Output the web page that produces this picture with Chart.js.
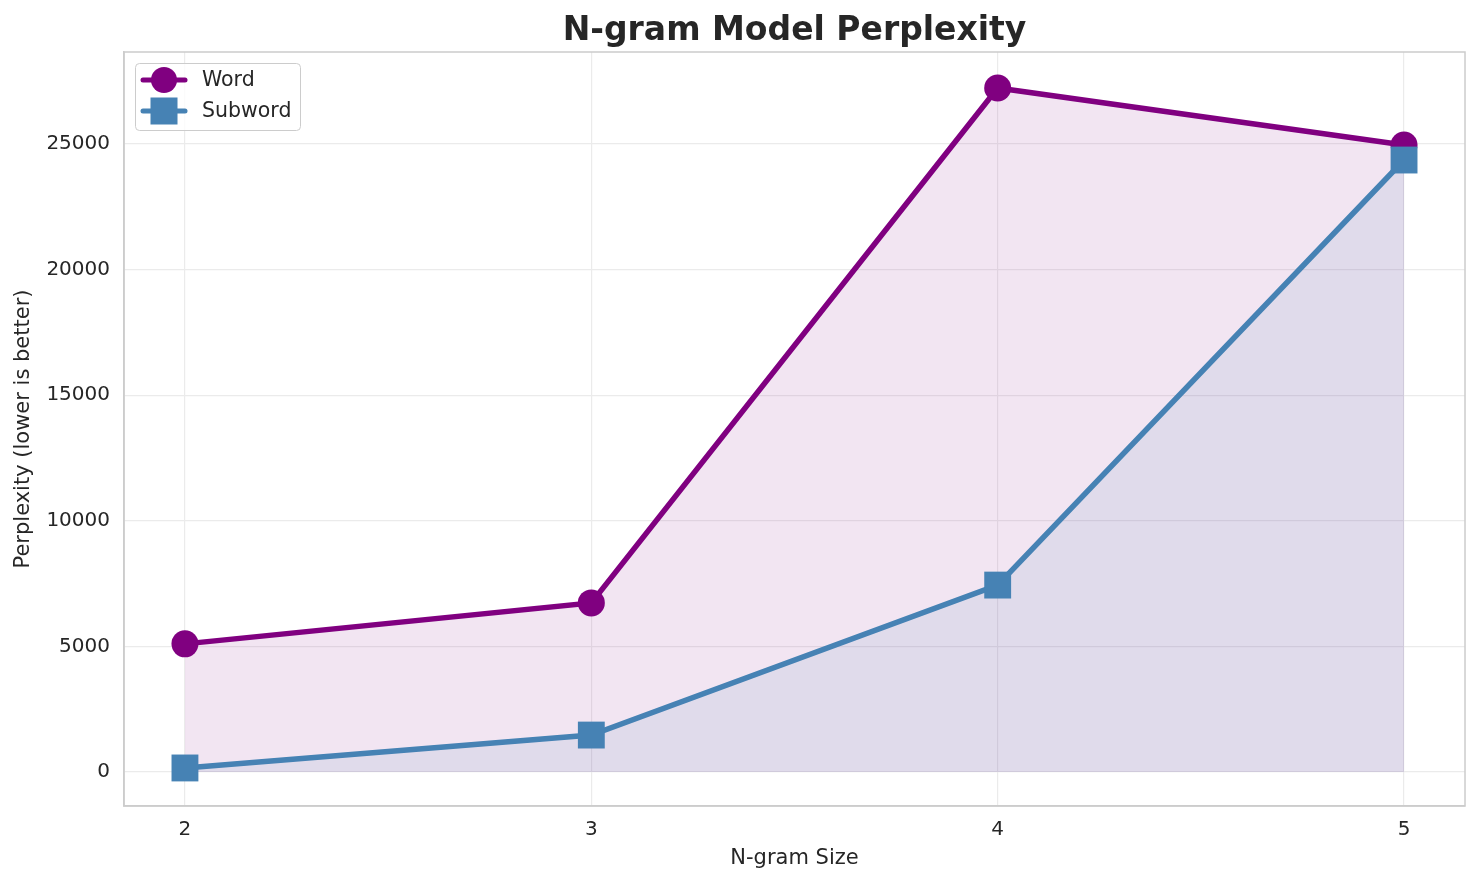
<!DOCTYPE html>
<html>
<head>
<meta charset="utf-8">
<script src="https://cdn.jsdelivr.net/npm/chart.js@4/dist/chart.umd.min.js"></script>
<style>
  html, body { margin: 0; padding: 0; background: #fff; overflow: hidden; }
  #wrap { width: 1484px; height: 885px; overflow: hidden; }
  canvas { display: block; }
</style>
</head>
<body>
<div id="wrap"><canvas id="chart"></canvas></div>
<script>
const ngramSizes = [2, 3, 4, 5];
const wordPerplexity = [5100, 6730, 27230, 24960];
const subwordPerplexity = [160, 1470, 7440, 24360];
const yTicks = [0, 5000, 10000, 15000, 20000, 25000];

const FONT = "'DejaVu Sans', sans-serif";
const TEXT = '#262626';

// legend drawn the matplotlib way: line sample with a marker in the middle
const legendBox = {
  id: 'legendBox',
  afterDraw(chart) {
    const ctx = chart.ctx;
    const x0 = 135, y0 = 63, w = 165, h = 67;
    ctx.save();
    ctx.fillStyle = 'rgba(255,255,255,0.8)';
    ctx.strokeStyle = '#cccccc';
    ctx.lineWidth = 1;
    ctx.beginPath();
    ctx.roundRect(x0 + 0.5, y0 + 0.5, w, h, 4);
    ctx.fill();
    ctx.stroke();
    chart.data.datasets.forEach((ds, i) => {
      const cy = 80 + i * 31;
      ctx.strokeStyle = ds.borderColor;
      ctx.lineWidth = 5;
      ctx.lineCap = 'round';
      ctx.beginPath();
      ctx.moveTo(143, cy);
      ctx.lineTo(185, cy);
      ctx.stroke();
      ctx.fillStyle = ds.borderColor;
      if (ds.pointStyle === 'circle') {
        ctx.beginPath();
        ctx.arc(164, cy, 13, 0, Math.PI * 2);
        ctx.fill();
      } else {
        ctx.fillRect(150.5, cy - 13.5, 27, 27);
      }
      ctx.fillStyle = TEXT;
      ctx.font = '20.5px ' + FONT;
      ctx.textBaseline = 'middle';
      ctx.fillText(ds.label, 202, cy + 1);
    });
    ctx.restore();
  }
};

const titlePlugin = {
  id: 'titleText',
  afterDraw(chart) {
    const ctx = chart.ctx;
    const a = chart.chartArea;
    ctx.save();
    ctx.fillStyle = TEXT;
    ctx.font = 'bold 33px ' + FONT;
    ctx.textAlign = 'center';
    ctx.textBaseline = 'alphabetic';
    ctx.fillText('N-gram Model Perplexity', (a.left + a.right) / 2, 40);
    ctx.restore();
  }
};

new Chart(document.getElementById('chart'), {
  type: 'line',
  data: {
    datasets: [
      {
        label: 'Word',
        data: ngramSizes.map((n, i) => ({ x: n, y: wordPerplexity[i] })),
        borderColor: '#800080',
        backgroundColor: 'rgba(128,0,128,0.1)',
        fill: 'origin',
        borderWidth: 5.5,
        pointStyle: 'circle',
        pointRadius: 13.5,
        pointBorderWidth: 0,
        pointBackgroundColor: '#800080',
        tension: 0,
        order: 2
      },
      {
        label: 'Subword',
        data: ngramSizes.map((n, i) => ({ x: n, y: subwordPerplexity[i] })),
        borderColor: '#4682b4',
        backgroundColor: 'rgba(70,130,180,0.1)',
        fill: 'origin',
        borderWidth: 5.5,
        pointStyle: 'rect',
        pointRadius: 19,
        pointBorderWidth: 0,
        pointBackgroundColor: '#4682b4',
        tension: 0,
        order: 1
      }
    ]
  },
  options: {
    responsive: true,
    maintainAspectRatio: false,
    animation: false,
    layout: { padding: { left: 0, right: 15, top: 52, bottom: 0 } },
    plugins: {
      legend: { display: false },
      tooltip: { enabled: false }
    },
    scales: {
      x: {
        type: 'linear',
        min: 1.85,
        max: 5.15,
        afterFit(scale) { scale.height = 79; },
        afterBuildTicks(scale) { scale.ticks = ngramSizes.map(v => ({ value: v })); },
        grid: { color: '#ebebeb', lineWidth: 1.2, drawTicks: false },
        border: { color: '#cccccc', width: 1.5 },
        ticks: { color: TEXT, font: { family: FONT, size: 20 }, padding: 12 },
        title: { display: true, text: 'N-gram Size', color: TEXT, font: { family: FONT, size: 21 }, padding: { top: 6, bottom: 14 } }
      },
      y: {
        type: 'linear',
        min: -1354,
        max: 28660,
        afterFit(scale) { scale.width = 124; },
        afterBuildTicks(scale) { scale.ticks = yTicks.map(v => ({ value: v })); },
        grid: { color: '#ebebeb', lineWidth: 1.2, drawTicks: false },
        border: { color: '#cccccc', width: 1.5 },
        ticks: { color: TEXT, font: { family: FONT, size: 20 }, padding: 14, callback: v => String(v) },
        title: { display: true, text: 'Perplexity (lower is better)', color: TEXT, font: { family: FONT, size: 21 }, padding: { top: 11, bottom: 0 } }
      }
    }
  },
  plugins: [
    titlePlugin,
    legendBox,
    {
      // close the frame on the top and right like the reference axes
      id: 'frame',
      beforeDatasetsDraw(chart) {
        const a = chart.chartArea, ctx = chart.ctx;
        ctx.save();
        ctx.strokeStyle = '#cccccc';
        ctx.lineWidth = 1.5;
        ctx.strokeRect(a.left, a.top, a.right - a.left, a.bottom - a.top);
        ctx.restore();
      }
    }
  ]
});
</script>
</body>
</html>
